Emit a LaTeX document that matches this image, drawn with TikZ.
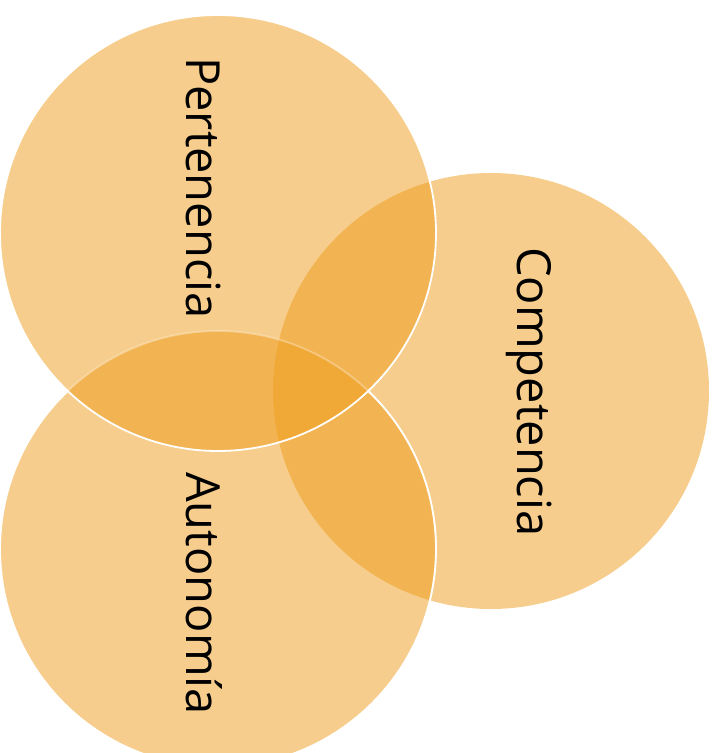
\documentclass[tikz,border=0pt]{standalone}
\usepackage{fontspec}
\setmainfont{Open Sans}
\usepackage{xcolor}
\usepackage{tikz}
\usetikzlibrary{positioning}
\definecolor{VennOrange}{HTML}{EE9C1A}

\begin{document}
\begin{tikzpicture}[
			x=1pt,y=-1pt,
			venn/.style={fill=VennOrange,fill opacity=0.5},
			rim/.style={draw=white,line width=1.8pt},
			lbl/.style={font=\fontsize{47}{50}\selectfont,rotate=-90,inner sep=0pt,anchor=base west}
		]
		\useasboundingbox (0,0) rectangle (716,753);
		\coordinate (pert) at (218,233);
		\coordinate (comp) at (491,391);
		\coordinate (auto) at (218,549);
		\fill[venn] (comp) circle[radius=218];
		\fill[venn] (auto) circle[radius=218];
		\fill[venn] (pert) circle[radius=218];
		% white rims
		\draw[rim,draw opacity=0.3] (auto) circle[radius=218];
		\begin{scope}[even odd rule]
			\clip (-20,-20) rectangle (740,780) (pert) circle[radius=218];
			\draw[rim] (auto) circle[radius=218];
		\end{scope}
		\draw[rim] (pert) circle[radius=218];
		\node[lbl] (pertlbl) at (186,57) {Pertenencia};
		\node[lbl] (complbl) at (517.5,247) {Competencia};
		\node[lbl] (autolbl) at (186,472) {Autonomía};
	\end{tikzpicture}
\end{document}
